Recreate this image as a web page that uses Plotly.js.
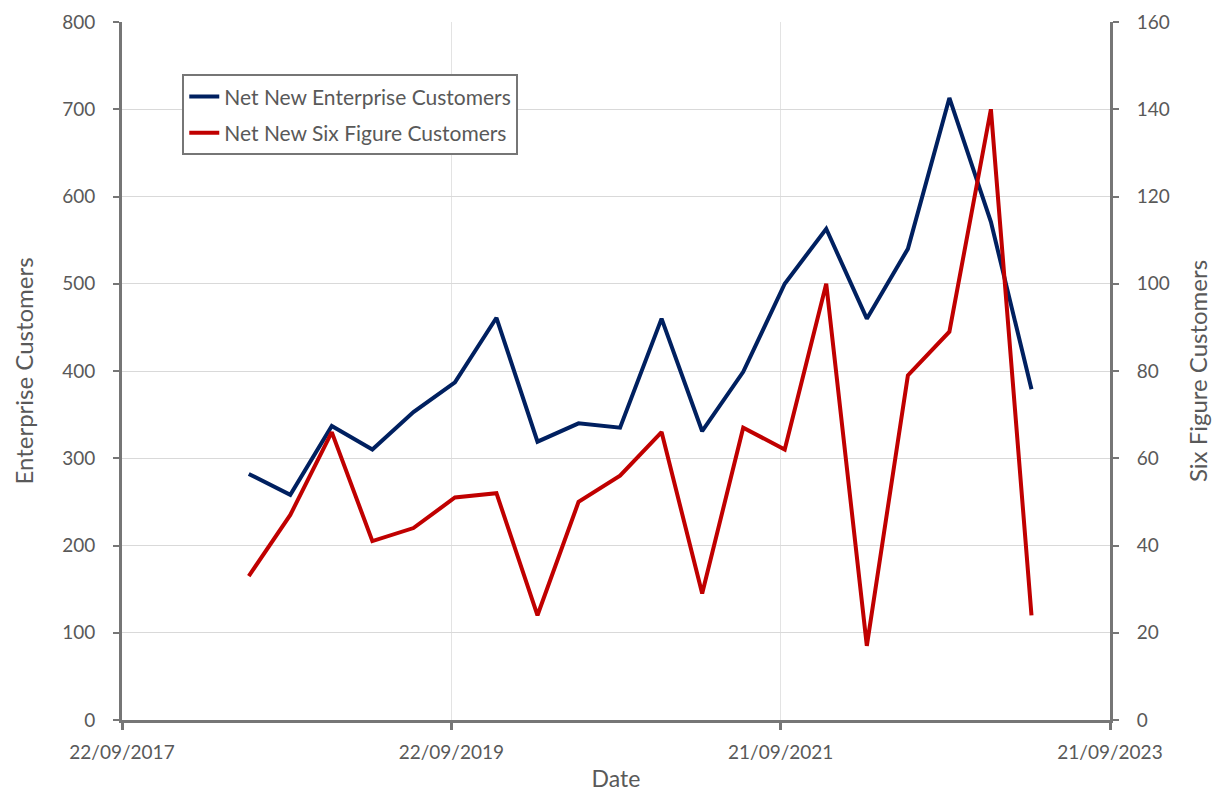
<!DOCTYPE html>
<html>
<head>
<meta charset="utf-8">
<script src="https://cdn.plot.ly/plotly-3.0.1.min.js"></script>
<style>html,body{margin:0;padding:0;background:#fff;}#chart{width:1222px;height:799px;}</style>
</head>
<body>
<div id="chart"></div>
<script>
const dates = ['2018-06-30','2018-09-30','2018-12-31','2019-03-31','2019-06-30','2019-09-30','2019-12-31','2020-03-31','2020-06-30','2020-09-30','2020-12-31','2021-03-31','2021-06-30','2021-09-30','2021-12-31','2022-03-31','2022-06-30','2022-09-30','2022-12-31','2023-03-31'];
const enterprise = [282,258,337,310,353,387,461,319,340,335,460,331,399,500,563,460,540,713,571,379];
const sixFigure = [33,47,66,41,44,51,52,24,50,56,66,29,67,62,100,17,79,89,140,24];
const xTickVals = ['2017-09-22','2019-09-22','2021-09-21','2023-09-21'];
const xTickText = ['22/09/2017','22/09/2019','21/09/2021','21/09/2023'];

const FONT = 'Lato, "Open Sans", sans-serif';
const GRAY = '#595959';
const AX = '#767676';

const traces = [
  {x: dates, y: enterprise, type: 'scatter', mode: 'lines', name: 'Net New Enterprise Customers',
   line: {color: '#002060', width: 4}, legendgroup: 'a', yaxis: 'y'},
  {x: dates, y: sixFigure, type: 'scatter', mode: 'lines', name: 'Net New Six Figure Customers',
   line: {color: '#C00000', width: 4}, legendgroup: 'b', yaxis: 'y2'}
];

const layout = {
  width: 1222, height: 799,
  margin: {l: 122, r: 112, t: 22, b: 79},
  paper_bgcolor: '#fff', plot_bgcolor: '#fff',
  font: {family: FONT, color: GRAY, size: 19},
  showlegend: true,
  legend: {x: 0.061, y: 0.925, xanchor: 'left', yanchor: 'top',
    bordercolor: AX, borderwidth: 2, bgcolor: '#fff',
    font: {family: FONT, size: 21, color: GRAY},
    traceorder: 'grouped', tracegroupgap: 6, itemwidth: 30},
  xaxis: {
    type: 'date', range: ['2017-09-22', '2023-09-21'],
    tickmode: 'array', tickvals: xTickVals, ticktext: xTickText,
    showline: true, linecolor: AX, linewidth: 3,
    ticks: 'outside', ticklen: 7, tickwidth: 3, tickcolor: AX,
    ticklabelstandoff: 6,
    showgrid: true, gridcolor: '#e3e3e3', gridwidth: 1,
    zeroline: false,
    tickfont: {size: 19, color: GRAY},
    title: {text: 'Date', font: {size: 23, color: GRAY}, standoff: 10}
  },
  yaxis: {
    range: [0, 800], dtick: 100,
    showline: true, linecolor: AX, linewidth: 3,
    ticks: 'outside', ticklen: 6, tickwidth: 2, tickcolor: AX,
    ticklabelstandoff: 14,
    showgrid: true, gridcolor: '#d9d9d9', gridwidth: 1, zeroline: false,
    tickfont: {size: 19, color: GRAY},
    title: {text: 'Enterprise Customers', font: {size: 24, color: GRAY}, standoff: 22}
  },
  yaxis2: {
    range: [0, 160], dtick: 20, overlaying: 'y', side: 'right',
    showline: true, linecolor: AX, linewidth: 3,
    ticks: 'outside', ticklen: 6, tickwidth: 2, tickcolor: AX,
    ticklabelstandoff: 14,
    showgrid: false, zeroline: false,
    tickfont: {size: 19, color: GRAY},
    title: {text: 'Six Figure Customers', font: {size: 24, color: GRAY}, standoff: 22}
  }
};

Plotly.newPlot('chart', traces, layout, {displayModeBar: false, staticPlot: true});
</script>
</body>
</html>
